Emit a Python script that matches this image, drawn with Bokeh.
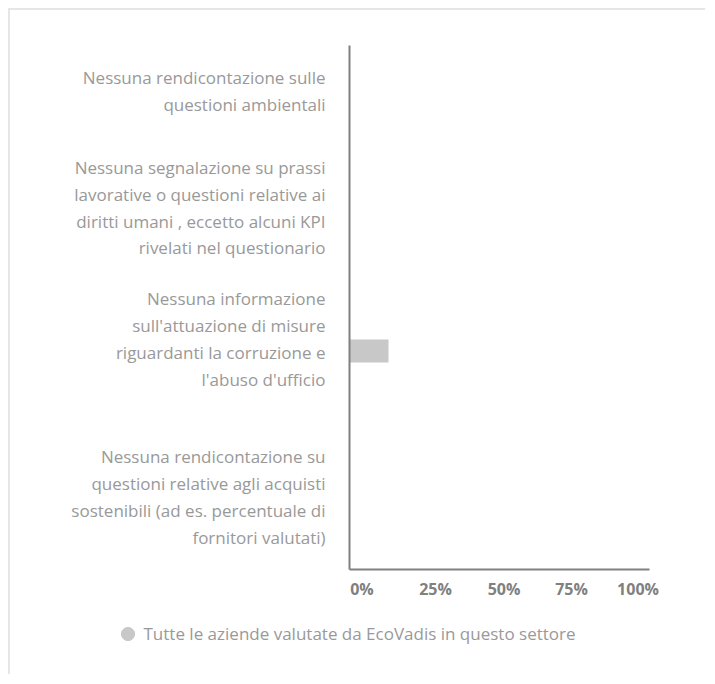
from bokeh.plotting import figure
from bokeh.models import Range1d, FixedTicker, Legend, LegendItem
from bokeh.embed import file_html
from bokeh.resources import INLINE

# ---------------- data ----------------
categories = [
    "Nessuna rendicontazione sulle\nquestioni ambientali",
    "Nessuna segnalazione su prassi\nlavorative o questioni relative ai\ndiritti umani , eccetto alcuni KPI\nrivelati nel questionario",
    "Nessuna informazione\nsull'attuazione di misure\nriguardanti la corruzione e\nl'abuso d'ufficio",
    "Nessuna rendicontazione su\nquestioni relative agli acquisti\nsostenibili (ad es. percentuale di\nfornitori valutati)",
]
values = [0, 0, 13, 0]
series_name = "Tutte le aziende valutate da EcoVadis in questo settore"
x_tick_labels = ["0%", "25%", "50%", "75%", "100%"]

# ---------------- layout helpers ----------------
FONT = "Open Sans"
n = len(categories)
centers = [n - i - 0.5 for i in range(n)]
bar_offset = 0.168
bar_height = 0.176
label_shift = [0.156, 0.263, 0.26, 0.053]
x_tick_pos = [4.17, 28.67, 51.5, 74.0, 96.17]

# frame covers the whole canvas; axes are pinned with fixed_location
W, H = 697, 666
px_x = 3.0          # pixels per percent
px_y = 131.0        # pixels per category band
ox, oy = 339, 35    # pixel offset of the value origin / top of bands
x0 = -ox / px_x
x1 = (W - ox) / px_x
y1 = n + oy / px_y
y0 = n - (H - oy) / px_y

p = figure(
    width=W, height=H,
    x_range=Range1d(x0, x1), y_range=Range1d(y0, y1),
    output_backend="svg", toolbar_location=None,
    min_border=0, min_border_left=0, min_border_right=0,
    min_border_top=0, min_border_bottom=0,
    margin=(8, 0, 0, 8),
)
p.styles = {"border-left": "2px solid #e6e6e6", "border-top": "2px solid #e6e6e6"}
p.title.visible = False
p.outline_line_color = None
p.xgrid.visible = False
p.ygrid.visible = False

bar_y = [c + bar_offset for c in centers]
bars = p.hbar(y=bar_y, left=0, right=values, height=bar_height,
              fill_color="#c8c8c8", line_color=None)

# y axis (categories)
ya = p.yaxis[0]
ya.fixed_location = 0
ya.bounds = (0, n)
label_pos = [c + s for c, s in zip(centers, label_shift)]
ya.ticker = FixedTicker(ticks=label_pos)
ya.major_label_overrides = {pos: lab for pos, lab in zip(label_pos, categories)}
ya.axis_line_color = "#808080"
ya.axis_line_width = 2
ya.major_tick_line_color = None
ya.minor_tick_line_color = None
ya.major_tick_out = 0
ya.major_tick_in = 0
ya.major_label_standoff = 24
ya.major_label_text_font = FONT
ya.major_label_text_font_size = "17px"
ya.major_label_text_color = "#999999"
ya.major_label_text_line_height = 1.17

# x axis (percent)
xa = p.xaxis[0]
xa.fixed_location = 0
xa.bounds = (0, 100)
xa.ticker = FixedTicker(ticks=x_tick_pos)
xa.major_label_overrides = {pos: lab for pos, lab in zip(x_tick_pos, x_tick_labels)}
xa.axis_line_color = "#808080"
xa.axis_line_width = 2
xa.major_tick_line_color = None
xa.minor_tick_line_color = None
xa.major_tick_out = 0
xa.major_tick_in = 0
xa.major_label_standoff = 8
xa.major_label_text_font = FONT
xa.major_label_text_font_size = "16px"
xa.major_label_text_font_style = "bold"
xa.major_label_text_color = "#808080"

# legend (circle marker) - placeholder renderer that draws nothing in the plot
nan = float("nan")
dummy = p.scatter(x=[nan], y=[nan], marker="circle", size=14,
                  fill_color="#c8c8c8", line_color="#c8c8c8")
legend = Legend(
    items=[LegendItem(label=series_name, renderers=[dummy], index=0)],
    location=(100.5, 26.5),
    glyph_width=33, glyph_height=33, label_standoff=0,
    padding=0, margin=0, border_line_color=None, background_fill_alpha=0,
    label_text_font=FONT, label_text_font_size="17px", label_text_color="#999999",
)
p.add_layout(legend)

open("out.html", "w").write(file_html(p, INLINE))
